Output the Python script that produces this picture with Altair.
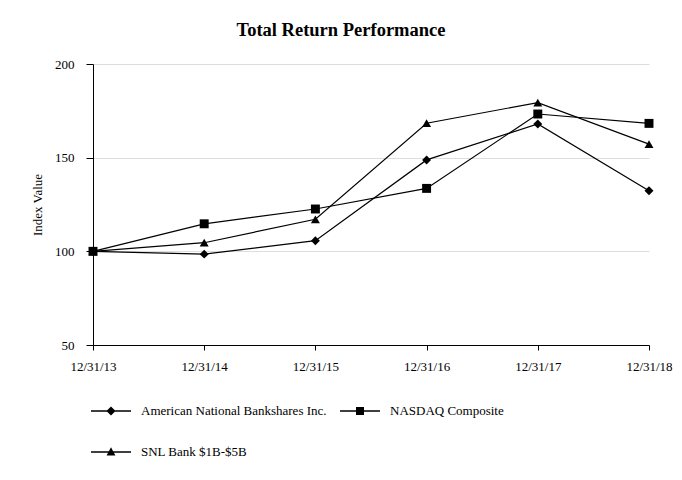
import altair as alt
import pandas as pd

dates = ["12/31/13", "12/31/14", "12/31/15", "12/31/16", "12/31/17", "12/31/18"]
series_names = ["American National Bankshares Inc.", "NASDAQ Composite", "SNL Bank $1B-$5B"]
amnb = [100.0, 98.5, 105.7, 148.8, 168.0, 132.3]
nasdaq = [100.0, 114.7, 122.6, 133.6, 173.3, 168.3]
snl = [100.0, 104.6, 117.1, 168.4, 179.4, 157.2]
y_ticks = [50, 100, 150, 200]

rows = []
for name, vals in zip(series_names, [amnb, nasdaq, snl]):
    for d, v in zip(dates, vals):
        rows.append({"date": d, "series": name, "value": v})
df = pd.DataFrame(rows)

FONT = "Liberation Serif"

x_enc = alt.X(
    "date:N",
    sort=dates,
    scale=alt.Scale(type="point", padding=0),
    axis=alt.Axis(
        title=None, labelAngle=0, grid=False, domainColor="black",
        tickColor="black", tickSize=5, labelPadding=10,
    ),
)
y_enc = alt.Y(
    "value:Q",
    scale=alt.Scale(domain=[50, 200], nice=False, zero=False),
    axis=alt.Axis(
        title="Index Value", values=y_ticks, grid=True, gridColor="#dddddd",
        domainColor="black", tickColor="black", tickSize=7, labelPadding=12,
        titlePadding=10,
    ),
)

lines = alt.Chart(df).mark_line(color="black", strokeWidth=1.2).encode(
    x=x_enc, y=y_enc, detail="series:N"
)

points = alt.Chart(df).mark_point(filled=True, color="black", opacity=1, size=80).encode(
    x=x_enc,
    y=y_enc,
    shape=alt.Shape(
        "series:N",
        scale=alt.Scale(domain=series_names, range=["diamond", "square", "triangle-up"]),
        legend=None,
    ),
)

legend_paths = [
    "M-1,-0.035H1V0.035H-1ZM0,-0.23L0.23,0L0,0.23L-0.23,0Z",
    "M-1,-0.035H1V0.035H-1ZM-0.2,-0.2H0.2V0.2H-0.2Z",
    "M-1,-0.035H1V0.035H-1ZM0,-0.24L0.22,0.17L-0.22,0.17Z",
]
legend_layer = alt.Chart(df).transform_filter("false").mark_point(
    filled=True, color="black", opacity=1
).encode(
    x=x_enc,
    y=y_enc,
    shape=alt.Shape(
        "series:N",
        scale=alt.Scale(domain=series_names, range=legend_paths),
        legend=alt.Legend(
            title=None, orient="none", legendX=-2, legendY=327, columns=2,
            direction="horizontal",
            symbolSize=1600, symbolFillColor="black", symbolStrokeWidth=0,
            labelFont=FONT, labelFontSize=13, labelLimit=400,
            labelColor="black", labelOffset=10, rowPadding=14, columnPadding=13,
            symbolOpacity=1,
        ),
    ),
)

chart = alt.layer(lines, points, legend_layer).resolve_scale(shape="independent").properties(
    width=556,
    height=281,
    title=alt.TitleParams(
        "Total Return Performance", font=FONT, fontSize=18.5, fontWeight="bold",
        color="black", offset=19, anchor="middle", dx=-30,
    ),
    autosize=alt.AutoSizeParams(type="none"),
    padding={"left": 85, "top": 56, "right": 24, "bottom": 118},
).configure_axis(
    labelFont=FONT, labelFontSize=13, labelColor="black",
    titleFont=FONT, titleFontSize=13, titleColor="black", titleFontWeight="normal",
).configure_view(stroke=None)

chart.save("out.html", embed_options={"renderer": "svg", "actions": False})
